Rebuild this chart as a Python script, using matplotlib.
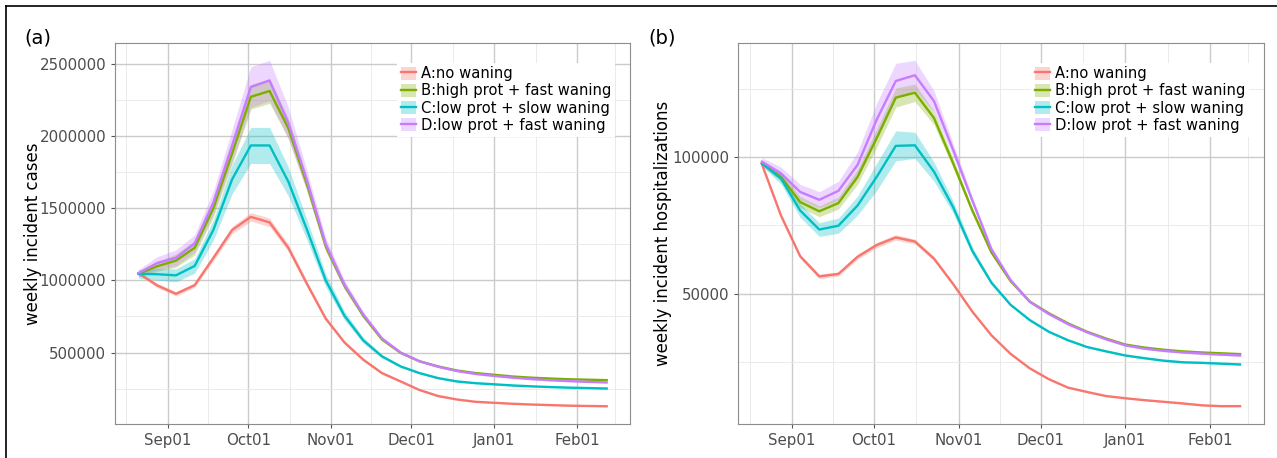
import matplotlib
matplotlib.use('Agg')
import matplotlib.pyplot as plt
import matplotlib.dates as mdates
from matplotlib.patches import Patch
from matplotlib.lines import Line2D
import numpy as np
import pandas as pd

dates = pd.date_range('2022-08-21', periods=26, freq='7D')

labels = ['A:no waning', 'B:high prot + fast waning', 'C:low prot + slow waning', 'D:low prot + fast waning']
colors = ['#F8766D', '#7CAE00', '#00BFC4', '#C77CFF']

# (a) weekly incident cases
cases_A = [1050000, 965000, 907000, 967000, 1156000, 1349000, 1440000, 1402000, 1226000, 975000, 735000, 570000, 451000,
           358000, 300000, 241000, 199000, 175000, 159000, 152000, 145000, 140000, 136000, 132000, 130000, 128000]
cases_B = [1045000, 1098000, 1137000, 1226000, 1500000, 1880000, 2272000, 2312000, 2055000, 1665000, 1235000, 962000, 755000,
           591000, 498000, 440000, 404000, 376000, 358000, 346000, 334000, 326000, 320000, 315000, 312000, 309000]
cases_C = [1045000, 1043000, 1035000, 1100000, 1350000, 1700000, 1935000, 1935000, 1685000, 1350000, 1000000, 755000, 585000,
           474000, 404000, 358000, 323000, 300000, 288000, 280000, 272000, 266000, 261000, 257000, 254000, 251000]
cases_D = [1050000, 1120000, 1156000, 1256000, 1540000, 1935000, 2340000, 2385000, 2090000, 1690000, 1250000, 970000, 765000,
           598000, 500000, 440000, 402000, 372000, 352000, 338000, 326000, 316000, 308000, 302000, 297000, 293000]
# ribbon half widths
cases_A_hw = [10e3, 15e3, 15e3, 15e3, 20e3, 25e3, 30e3, 30e3, 25e3, 20e3, 15e3, 12e3, 10e3,
              8e3, 6e3, 5e3, 5e3, 4e3, 4e3, 4e3, 4e3, 3e3, 3e3, 3e3, 3e3, 3e3]
cases_B_hw = [20e3, 35e3, 45e3, 50e3, 60e3, 75e3, 85e3, 85e3, 70e3, 50e3, 35e3, 25e3, 15e3,
              10e3, 8e3, 6e3, 5e3, 5e3, 4e3, 4e3, 4e3, 4e3, 3e3, 3e3, 3e3, 3e3]
cases_C_hw = [30e3, 40e3, 45e3, 50e3, 70e3, 100e3, 125e3, 125e3, 100e3, 70e3, 45e3, 30e3, 20e3,
              12e3, 8e3, 6e3, 5e3, 5e3, 4e3, 4e3, 4e3, 4e3, 3e3, 3e3, 3e3, 3e3]
cases_D_hw = [25e3, 45e3, 55e3, 60e3, 80e3, 110e3, 140e3, 140e3, 110e3, 70e3, 45e3, 30e3, 18e3,
              12e3, 8e3, 6e3, 5e3, 5e3, 4e3, 4e3, 4e3, 4e3, 3e3, 3e3, 3e3, 3e3]

# (b) weekly incident hospitalizations
hosp_A = [97500, 78600, 63700, 56300, 57200, 63500, 67800, 70600, 69100, 62800, 53500, 43400, 34700,
          27900, 22600, 18600, 15500, 13900, 12400, 11600, 10900, 10300, 9700, 9000, 8700, 8700]
hosp_B = [97800, 92800, 83600, 80200, 83200, 92800, 107000, 121900, 123700, 114400, 97800, 80500, 65100,
          54600, 47100, 42800, 39100, 36000, 33500, 31300, 30200, 29400, 28800, 28400, 28100, 27800]
hosp_C = [97800, 92200, 80500, 73500, 74900, 82300, 92800, 104200, 104400, 94700, 81700, 65700, 54000,
          45900, 40300, 36000, 32900, 30400, 28800, 27300, 26300, 25400, 24800, 24600, 24300, 24000]
hosp_D = [98400, 94100, 87300, 84400, 87700, 97200, 113800, 128000, 130100, 120600, 102700, 84200, 66300,
          55000, 47000, 42500, 38800, 35800, 33200, 31000, 29800, 29000, 28400, 28000, 27600, 27300]
hosp_A_hw = [500, 700, 800, 800, 800, 900, 1000, 1000, 900, 800, 600, 500, 400,
             300, 300, 200, 200, 200, 200, 200, 200, 200, 200, 200, 200, 200]
hosp_B_hw = [800, 1500, 2000, 2000, 2200, 2700, 3300, 3500, 3200, 2500, 1700, 1100, 700,
             500, 400, 300, 300, 300, 300, 300, 300, 300, 300, 300, 300, 300]
hosp_C_hw = [1000, 2000, 2500, 2500, 2800, 3500, 5000, 5500, 4800, 3500, 2200, 1400, 800,
             500, 400, 300, 300, 300, 300, 300, 300, 300, 300, 300, 300, 300]
hosp_D_hw = [1500, 2300, 2800, 3000, 3500, 4800, 6000, 6500, 5500, 3800, 2300, 1400, 800,
             500, 400, 300, 300, 300, 300, 300, 300, 300, 300, 300, 300, 300]

cases = [cases_A, cases_B, cases_C, cases_D]
cases_hw = [cases_A_hw, cases_B_hw, cases_C_hw, cases_D_hw]
hosp = [hosp_A, hosp_B, hosp_C, hosp_D]
hosp_hw = [hosp_A_hw, hosp_B_hw, hosp_C_hw, hosp_D_hw]

major_months = pd.date_range('2022-09-01', '2023-02-01', freq='MS')
all_months = pd.date_range('2022-08-01', '2023-03-01', freq='MS')
minor_x = [all_months[i] + (all_months[i + 1] - all_months[i]) / 2 for i in range(len(all_months) - 1)]

fig = plt.figure(figsize=(12.77, 4.58), dpi=100)
ax1 = fig.add_axes([0.0901, 0.0742, 0.4033, 0.832])
ax2 = fig.add_axes([0.5779, 0.0742, 0.4119, 0.832])


def panel(ax, series, hws, yticks, yminor, ylabel, label_x):
    x = mdates.date2num(dates)
    for s, hw, c in zip(series, hws, colors):
        s = np.array(s, dtype=float)
        hw = np.array(hw, dtype=float)
        ax.fill_between(x, s - hw, s + hw, color=c, alpha=0.3, lw=0, zorder=2)
    for s, c in zip(series, colors):
        ax.plot(x, s, color=c, lw=1.7, zorder=3)

    lo = min(np.min(np.array(s) - np.array(h)) for s, h in zip(series, hws))
    hi = max(np.max(np.array(s) + np.array(h)) for s, h in zip(series, hws))
    pad = (hi - lo) * 0.05
    ax.set_ylim(lo - pad, hi + pad)
    xpad = (x[-1] - x[0]) * 0.05
    ax.set_xlim(x[0] - xpad, x[-1] + xpad)

    ax.set_xticks(mdates.date2num(major_months))
    ax.set_xticklabels([d.strftime('%b%d') for d in major_months])
    ax.set_xticks(mdates.date2num(minor_x), minor=True)
    ax.set_yticks(yticks)
    ax.set_yticklabels([str(v) for v in yticks])
    ax.set_yticks(yminor, minor=True)

    ax.grid(which='major', color='#cbcbcb', lw=1.0, zorder=0)
    ax.grid(which='minor', color='#e8e8e8', lw=0.6, zorder=0)
    ax.set_axisbelow(True)
    ax.tick_params(which='major', length=3, color='#555555', labelcolor='#4d4d4d', labelsize=10.8)
    ax.tick_params(which='minor', length=0)
    for sp in ax.spines.values():
        sp.set_color('#8c8c8c')
        sp.set_linewidth(0.8)
    ax.set_ylabel(ylabel, fontsize=12)
    ax.yaxis.set_label_coords(label_x, 0.5)

    handles = [(Patch(facecolor=c, alpha=0.3, lw=0), Line2D([], [], color=c, lw=1.7)) for c in colors]
    leg = ax.legend(handles, labels, loc='upper right', bbox_to_anchor=(0.985, 0.968), fontsize=10.6,
                    handlelength=1.0, handleheight=1.0, labelspacing=0.15, handletextpad=0.35,
                    borderpad=0.25, frameon=True, fancybox=False)
    leg.get_frame().set_facecolor('white')
    leg.get_frame().set_edgecolor('none')
    leg.get_frame().set_alpha(1)


panel(ax1, cases, cases_hw, [500000, 1000000, 1500000, 2000000, 2500000],
      [250000, 750000, 1250000, 1750000, 2250000], 'weekly incident cases', -0.142)
panel(ax2, hosp, hosp_hw, [50000, 100000], [25000, 75000, 125000],
      'weekly incident hospitalizations', -0.125)

fig.text(0.019, 0.917, '(a)', fontsize=14, va='center')
fig.text(0.508, 0.917, '(b)', fontsize=14, va='center')

# outer frame (top and left edges)
fig.add_artist(Line2D([0.0047, 1.0], [0.987, 0.987], color='black', lw=1.2, transform=fig.transFigure))
fig.add_artist(Line2D([0.0047, 0.0047], [0.0, 0.987], color='black', lw=1.2, transform=fig.transFigure))

fig.savefig('out.png', dpi=100)
